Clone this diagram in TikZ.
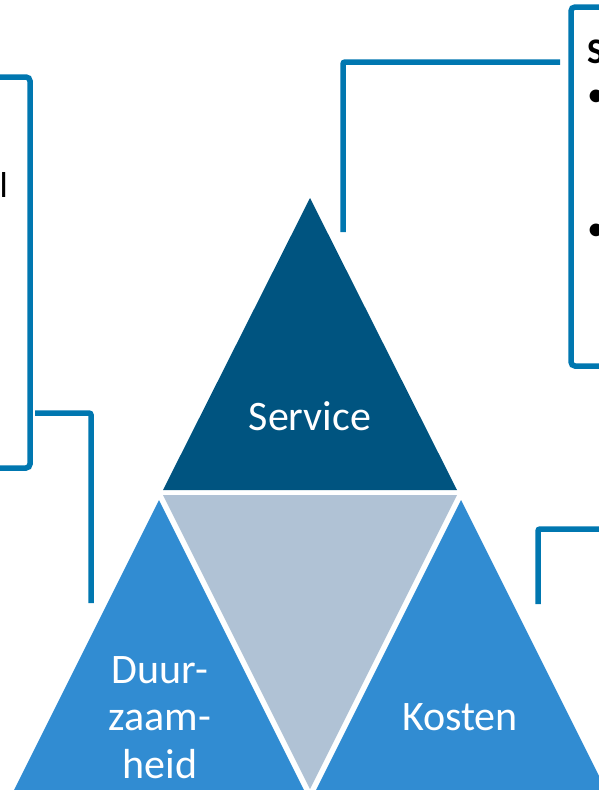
\documentclass[tikz,border=0pt]{standalone}
\usepackage{fontspec}
\setmainfont{Carlito}
\usetikzlibrary{positioning}

\definecolor{servblue}{RGB}{0,84,128}
\definecolor{sideblue}{RGB}{49,140,210}
\definecolor{midgray}{RGB}{176,194,213}
\definecolor{linkblue}{RGB}{0,119,176}

\begin{document}
\begin{tikzpicture}[x=1pt, y=-1pt,
    label/.style={text=white, font=\fontsize{42}{47.5}\selectfont, align=center, inner sep=0pt, anchor=base},
    note/.style={draw=linkblue, line width=5.5pt, rounded corners=4pt, inner sep=0pt},
    notetext/.style={text=black, font=\fontsize{36}{40}\selectfont, inner sep=0pt},
    link/.style={draw=linkblue, line width=5.5pt, rounded corners=2pt}
]

\useasboundingbox (0,0) rectangle (599,790);
\clip (0,0) rectangle (599,790);

% Triangles
\fill[servblue] (310,198) -- (457,490) -- (163,490) -- cycle;
\fill[midgray] (163,495) -- (457,495) -- (310,789) -- cycle;
\fill[sideblue] (159,500) -- (305,792) -- (13,792) -- cycle;
\fill[sideblue] (461,500) -- (607,792) -- (315,792) -- cycle;

% Labels
\node[label] (service) at (310,430) {Service};
\node[label] (duurzaam) at (160,778) {Duur-\\zaam-\\heid};
\node[label] (kosten) at (460,730) {Kosten};

% Note boxes
\node[note, minimum width=330pt, minimum height=391pt] (leftnote) at (-135,272.5) {};
\node[note, minimum width=329pt, minimum height=359pt] (rightnote) at (735.5,186.5) {};

% Note texts
\node[notetext, anchor=base west] (lefttext) at (-0.5,197) {l};
\node[notetext, anchor=base west, font=\fontsize{36}{40}\selectfont\bfseries] (righttitle) at (587,63) {S};
\node[notetext] (bulletone) at (596,98) {•};
\node[notetext] (bullettwo) at (596,232) {•};

% Connections
\coordinate (servnote) at (560,62);
\coordinate (servtip) at (343,232);
\coordinate (duurnote) at (35,413);
\coordinate (duurtip) at (91,603);
\coordinate (kostennote) at (620,529);
\coordinate (kostentip) at (538,604);

\draw[link] (servnote) -| (servtip);
\draw[link] (duurnote) -| (duurtip);
\draw[link] (kostentip) |- (kostennote);

\end{tikzpicture}
\end{document}
